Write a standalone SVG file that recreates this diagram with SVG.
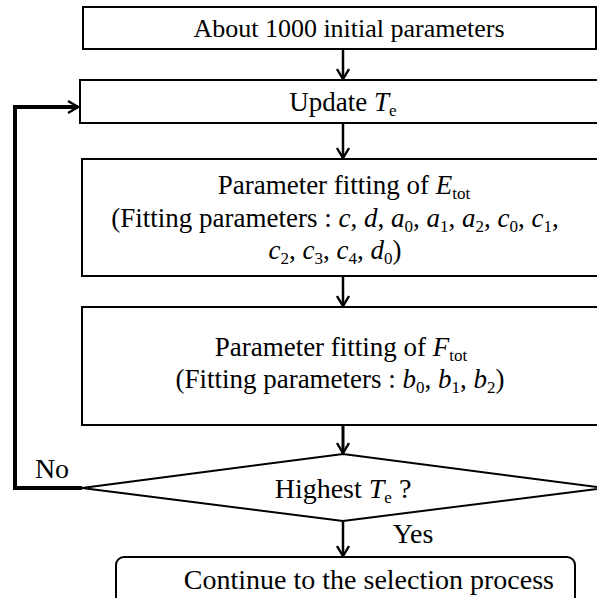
<svg xmlns="http://www.w3.org/2000/svg" width="597" height="598" viewBox="0 0 597 598">
<defs>
<marker id="arr" viewBox="0 0 14 14" refX="12" refY="7" markerWidth="14" markerHeight="14" markerUnits="userSpaceOnUse" orient="auto">
<path d="M2,1 L12,7 L2,13" fill="none" stroke="#000" stroke-width="2.4"/>
</marker>
<style>
.box{fill:#fff;stroke:#000;stroke-width:2}
.t{font-family:"Liberation Serif","Times New Roman",serif;font-size:27px;fill:#000;text-anchor:middle}
.big{font-size:28px}
.i{font-style:italic}
.s{font-size:17px}
.c{fill:none;stroke:#000;stroke-width:2.5}
.heavy{stroke-width:3}
.loop{stroke-width:4}
</style>
</defs>

<g id="connectors">
<line class="c" x1="343" y1="49" x2="343" y2="79" marker-end="url(#arr)"/>
<line class="c" x1="343" y1="123" x2="343" y2="158" marker-end="url(#arr)"/>
<line class="c" x1="343" y1="276" x2="343" y2="306" marker-end="url(#arr)"/>
<line class="c heavy" x1="343" y1="425" x2="343" y2="453" marker-end="url(#arr)"/>
<line class="c" x1="343" y1="521" x2="343" y2="556" marker-end="url(#arr)"/>
<polyline class="c loop" points="82,488 15,488 15,107 78,107" marker-end="url(#arr)"/>
</g>

<g id="init">
<rect class="box" x="83" y="7" width="513" height="42"/>
<text class="t" x="349" y="37" style="font-size:26px">About 1000 initial parameters</text>
</g>

<g id="update">
<rect class="box" x="80" y="80" width="540" height="43"/>
<text class="t" x="343" y="111">Update <tspan class="i">T</tspan><tspan class="s" dy="5">e</tspan></text>
</g>

<g id="fit-e">
<rect class="box" x="82" y="159" width="540" height="117"/>
<text class="t" x="344" y="194">Parameter fitting of <tspan class="i">E</tspan><tspan class="s" dy="5">tot</tspan></text>
<text class="t" x="335" y="227">(Fitting parameters : <tspan class="i">c</tspan>, <tspan class="i">d</tspan>, <tspan class="i">a</tspan><tspan class="s" dy="5">0</tspan><tspan dy="-5">, </tspan><tspan class="i">a</tspan><tspan class="s" dy="5">1</tspan><tspan dy="-5">, </tspan><tspan class="i">a</tspan><tspan class="s" dy="5">2</tspan><tspan dy="-5">, </tspan><tspan class="i">c</tspan><tspan class="s" dy="5">0</tspan><tspan dy="-5">, </tspan><tspan class="i">c</tspan><tspan class="s" dy="5">1</tspan><tspan dy="-5">,</tspan></text>
<text class="t" x="335" y="259"><tspan class="i">c</tspan><tspan class="s" dy="5">2</tspan><tspan dy="-5">, </tspan><tspan class="i">c</tspan><tspan class="s" dy="5">3</tspan><tspan dy="-5">, </tspan><tspan class="i">c</tspan><tspan class="s" dy="5">4</tspan><tspan dy="-5">, </tspan><tspan class="i">d</tspan><tspan class="s" dy="5">0</tspan><tspan dy="-5">)</tspan></text>
</g>

<g id="fit-f">
<rect class="box" x="82" y="307" width="540" height="118"/>
<text class="t" x="341" y="356">Parameter fitting of <tspan class="i">F</tspan><tspan class="s" dy="5">tot</tspan></text>
<text class="t" x="340" y="388">(Fitting parameters : <tspan class="i">b</tspan><tspan class="s" dy="5">0</tspan><tspan dy="-5">, </tspan><tspan class="i">b</tspan><tspan class="s" dy="5">1</tspan><tspan dy="-5">, </tspan><tspan class="i">b</tspan><tspan class="s" dy="5">2</tspan><tspan dy="-5">)</tspan></text>
</g>

<g id="decision">
<polygon class="box" points="82,488 343,454 604,488 343,521"/>
<text class="t big" x="343" y="498">Highest <tspan class="i">T</tspan><tspan class="s" dy="5">e</tspan><tspan dy="-5"> ?</tspan></text>
<text class="t big" x="52" y="478">No</text>
<text class="t big" x="413" y="543">Yes</text>
</g>

<g id="selection">
<rect class="box" x="116" y="557" width="459" height="50" rx="8" ry="8"/>
<text class="t big" x="554" y="589" style="text-anchor:end">Continue to the selection process</text>
</g>
</svg>
